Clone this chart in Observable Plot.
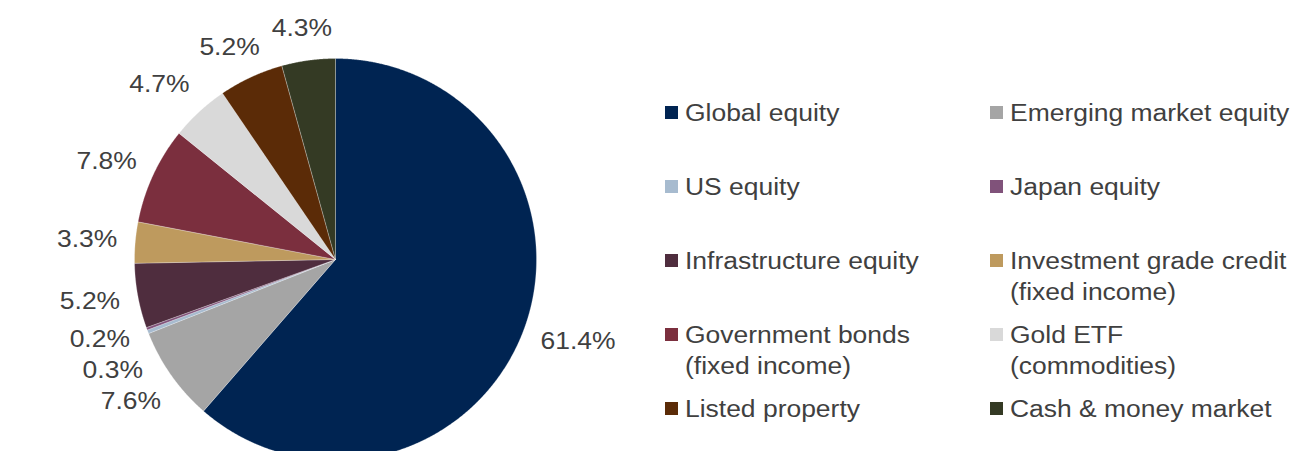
<!DOCTYPE html>
<html><head><meta charset="utf-8">
<script src="https://cdn.jsdelivr.net/npm/d3@7"></script>
<script src="https://cdn.jsdelivr.net/npm/@observablehq/plot@0.6"></script>
<style>
html,body{margin:0;padding:0;overflow:hidden;background:#fff;width:1294px;height:451px;}
#chart{position:absolute;left:0;top:0;}
#legend{position:absolute;left:0;top:0;font-family:"Liberation Sans",Arial,sans-serif;font-size:23px;color:#404040;}
.entry{position:absolute;}
.sw{position:absolute;left:0;top:8.8px;width:13px;height:13px;}
.lab{position:absolute;left:20px;top:0;line-height:31px;white-space:nowrap;}
.lab div{transform:scaleX(1.15);transform-origin:0 0;}
</style></head><body>
<div id="chart"></div><div id="legend"></div>
<script>
const categories = ["Global equity","Emerging market equity","US equity","Japan equity","Infrastructure equity","Investment grade credit (fixed income)","Government bonds (fixed income)","Gold ETF (commodities)","Listed property","Cash & money market"];
const shares = [61.4, 7.6, 0.3, 0.2, 5.2, 3.3, 7.8, 4.7, 5.2, 4.3];
const sliceLabels = ["61.4%","7.6%","0.3%","0.2%","5.2%","3.3%","7.8%","4.7%","5.2%","4.3%"];
const legendLabels = ["Global equity","Emerging market equity","US equity","Japan equity","Infrastructure equity","Investment grade credit\n(fixed income)","Government bonds\n(fixed income)","Gold ETF\n(commodities)","Listed property","Cash & money market"];
const colors = ["#002452","#a5a5a5","#a7bbcf","#80527a","#4f2d3e","#be9a5e","#7b2f3e","#d9d9d9","#5b2b07","#343a24"];

const W = 620, H = 451, CX = 335, CY = 259, R = 201;
const STRETCH = 1.15, FONT = 23;

const arcs = d3.pie().sort(null).value(d => d)(shares);
const pts = [];
arcs.forEach((a, i) => {
  const cat = categories[i];
  pts.push({cat, x: 0, y: 0});
  const n = Math.max(2, Math.ceil((a.endAngle - a.startAngle) / (Math.PI / 720)));
  for (let k = 0; k <= n; k++) {
    const t = a.startAngle + (a.endAngle - a.startAngle) * k / n;
    pts.push({cat, x: Math.sin(t), y: Math.cos(t)});
  }
  pts.push({cat, x: 0, y: 0});
});

// label placement (best-fit style, outside end)
const ctx = document.createElement("canvas").getContext("2d");
ctx.font = `${FONT}px "Liberation Sans"`;
const G = 18, HH = 13.5, LINE = 31;
const labs = arcs.map((a, i) => {
  const m = (a.startAngle + a.endAngle) / 2, s = Math.sin(m), c = Math.cos(m);
  const w = ctx.measureText(sliceLabels[i]).width * STRETCH;
  const mx = Math.max(Math.abs(s), Math.abs(c));
  const px = CX + s * (R + G) + (s / mx) * w / 2, py = CY - c * (R + G) - (c / mx) * HH;
  return {text: sliceLabels[i], px, py, w, D: Math.hypot(px - CX, py - CY), left: s < 0};
});
const order = [...labs].sort((a, b) => a.py - b.py);
const placed = [];
for (const l of order) {
  for (let iter = 0; iter < 10; iter++) {
    let hit = false;
    for (const p of placed) {
      if (Math.abs(p.px - l.px) < (p.w + l.w) / 2 && Math.abs(p.py - l.py) < LINE) {
        l.py = p.py + LINE; hit = true;
        const dy = l.py - CY;
        const dx = Math.sqrt(Math.max(l.D * l.D - dy * dy, 0));
        l.px = l.left ? CX - dx : CX + dx;
      }
    }
    if (!hit) break;
  }
  placed.push(l);
}
labs.forEach(l => { l.x = (l.px - CX) / R; l.y = (CY - l.py) / R; });

const plot = Plot.plot({
  width: W, height: H, margin: 0,
  x: {axis: null, domain: [-CX / R, (W - CX) / R]},
  y: {axis: null, domain: [-(H - CY) / R, CY / R]},
  color: {domain: categories, range: colors},
  style: {fontFamily: '"Liberation Sans",Arial,sans-serif', background: "transparent"},
  marks: [
    Plot.line(pts, {x: "x", y: "y", z: "cat", fill: "cat", stroke: "white", strokeWidth: 0.5, strokeOpacity: 0.5, curve: "linear"}),
    Plot.text(labs, {x: "x", y: "y", text: "text", fill: "#404040", fontSize: FONT, textAnchor: "middle", lineAnchor: "middle"})
  ]
});
document.getElementById("chart").append(plot);
plot.querySelectorAll("text").forEach(t => {
  const L = t.getComputedTextLength();
  t.setAttribute("textLength", L * STRETCH);
  t.setAttribute("lengthAdjust", "spacingAndGlyphs");
});

// legend
const leg = document.getElementById("legend");
categories.forEach((c, i) => {
  const col = i % 2, row = Math.floor(i / 2);
  const e = document.createElement("div");
  e.className = "entry";
  e.style.left = (col ? 990 : 665) + "px";
  e.style.top = (97.5 + 74 * row) + "px";
  const sw = document.createElement("div");
  sw.className = "sw"; sw.style.background = colors[i];
  e.append(sw);
  const lab = document.createElement("div");
  lab.className = "lab";
  legendLabels[i].split("\n").forEach(line => {
    const d = document.createElement("div");
    d.textContent = line;
    lab.append(d);
  });
  e.append(lab);
  leg.append(e);
});
</script>
</body></html>
